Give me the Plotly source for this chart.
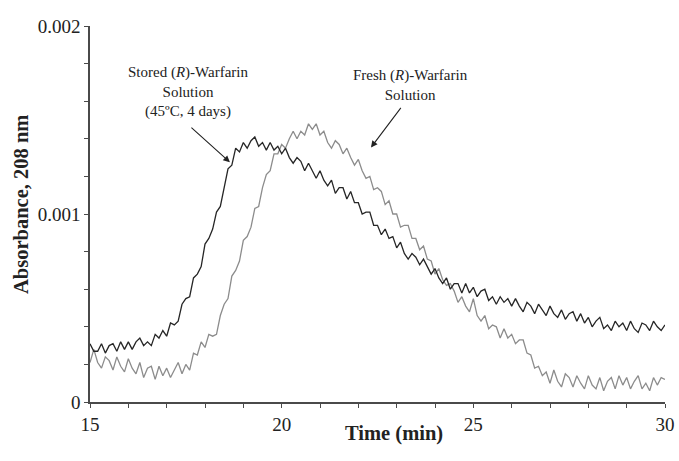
import numpy as np
import plotly.graph_objects as go

# Absorbance values in units of 1e-5 AU, sampled every 0.1 min from 15.0 to 30.0 min
stored_e5 = [
    31, 27, 27, 31, 26, 30, 31, 27, 32, 28,
    32, 28, 32, 34, 30, 32, 30, 36, 34, 38,
    35, 42, 41, 43, 52, 55, 56, 66, 68, 72,
    84, 87, 92, 101, 104, 115, 124, 126, 135, 133,
    138, 135, 139, 141, 136, 138, 134, 138, 134, 136,
    132, 135, 130, 127, 130, 128, 123, 127, 123, 119,
    123, 118, 115, 118, 111, 114, 114, 108, 112, 106,
    106, 100, 101, 101, 94, 94, 89, 92, 87, 88,
    82, 85, 79, 76, 79, 77, 73, 76, 72, 68,
    71, 66, 63, 66, 60, 63, 63, 58, 63, 58,
    61, 56, 59, 60, 54, 56, 52, 56, 53, 55,
    51, 55, 51, 48, 53, 51, 47, 52, 49, 46,
    51, 47, 45, 49, 44, 47, 48, 43, 47, 42,
    45, 40, 43, 45, 39, 41, 38, 43, 40, 42,
    38, 43, 39, 37, 42, 41, 38, 43, 40, 38,
    41,
]
fresh_e5 = [
    21, 28, 21, 18, 24, 22, 17, 24, 19, 16,
    23, 18, 15, 21, 13, 18, 19, 12, 19, 14,
    18, 13, 17, 21, 15, 20, 17, 26, 25, 32,
    29, 36, 35, 36, 46, 52, 55, 67, 70, 75,
    86, 88, 93, 103, 104, 114, 121, 123, 132, 132,
    137, 135, 140, 144, 140, 144, 142, 148, 145, 148,
    142, 144, 138, 135, 139, 137, 132, 135, 130, 126,
    129, 123, 119, 120, 113, 114, 112, 105, 107, 100,
    100, 93, 94, 94, 87, 87, 81, 83, 76, 75,
    68, 71, 65, 62, 63, 59, 53, 56, 51, 48,
    55, 46, 43, 46, 39, 41, 40, 34, 39, 34,
    36, 31, 33, 33, 26, 25, 18, 19, 14, 16,
    10, 17, 11, 8, 15, 13, 8, 14, 10, 7,
    14, 9, 7, 13, 6, 11, 13, 7, 14, 9,
    13, 7, 11, 14, 7, 10, 6, 13, 9, 13,
    12,
]
time_start, time_end = 15.0, 30.0
x_tickvals = [15, 20, 25, 30]
y_tickvals = [0, 0.001, 0.002]
y_ticktext = ["0", "0.001", "0.002"]

t = np.linspace(time_start, time_end, len(stored_e5))
stored = np.array(stored_e5) * 1e-5
fresh = np.array(fresh_e5) * 1e-5

FONT = "Liberation Serif, Times New Roman, serif"
AXC = "#4a4a4a"

fig = go.Figure()
fig.add_trace(go.Scatter(x=t, y=fresh, mode="lines", line=dict(color="#8c8c8c", width=1.3),
                         name="Fresh", showlegend=False))
fig.add_trace(go.Scatter(x=t, y=stored, mode="lines", line=dict(color="#262626", width=1.3),
                         name="Stored", showlegend=False))

fig.update_layout(
    width=679, height=461,
    margin=dict(l=90, r=14, t=26, b=59, autoexpand=False),
    paper_bgcolor="white", plot_bgcolor="white",
    font=dict(family=FONT, size=19, color="#222"),
    showlegend=False,
)
fig.update_xaxes(
    range=[time_start, time_end], tickvals=x_tickvals, automargin=False,
    showline=True, linecolor=AXC, linewidth=1.5, showgrid=False, zeroline=False,
    ticks="outside", ticklen=4, tickcolor=AXC, tickwidth=1.2,
    minor=dict(dtick=1, ticks="outside", ticklen=4, tickcolor=AXC, tickwidth=1.2),
    tickfont=dict(size=19),
)
fig.update_yaxes(
    range=[0, 0.002], tickvals=y_tickvals, ticktext=y_ticktext, automargin=False,
    showline=True, linecolor=AXC, linewidth=1.5, showgrid=False, zeroline=False,
    ticks="outside", ticklen=4, tickcolor=AXC, tickwidth=1.2,
    minor=dict(dtick=0.0002, ticks="outside", ticklen=4, tickcolor=AXC, tickwidth=1.2),
    tickfont=dict(size=19),
)

# axis titles
fig.add_annotation(text="<b>Time (min)</b>", xref="paper", yref="paper",
                   x=(394 - 90) / 575, y=-(434 - 402) / 376, xanchor="center", yanchor="middle",
                   showarrow=False, font=dict(size=20.5, family=FONT, color="#222"))
fig.add_annotation(text="<b>Absorbance, 208 nm</b>", xref="paper", yref="paper",
                   x=-(90 - 21) / 575, y=(402 - 205) / 376, xanchor="center", yanchor="middle",
                   textangle=-90, showarrow=False, font=dict(size=20.5, family=FONT, color="#222"))

# labels
fig.add_annotation(text="Stored (<i>R</i>)-Warfarin<br>Solution<br>(45ºC, 4 days)",
                   x=17.56, y=0.00165, xref="x", yref="y", showarrow=False,
                   xanchor="center", yanchor="middle", font=dict(size=15, family=FONT, color="#222"))
fig.add_annotation(text="Fresh (<i>R</i>)-Warfarin<br>Solution",
                   x=23.35, y=0.001684, xref="x", yref="y", showarrow=False,
                   xanchor="center", yanchor="middle", font=dict(size=15, family=FONT, color="#222"))
# arrows
fig.add_annotation(text="", x=18.65, y=0.001275, xref="x", yref="y", showarrow=True,
                   ax=-40, ay=-36, arrowhead=2, arrowsize=1.2, arrowwidth=1.1, arrowcolor="#222")
fig.add_annotation(text="", x=22.33, y=0.001354, xref="x", yref="y", showarrow=True,
                   ax=31, ay=-41, arrowhead=2, arrowsize=1.2, arrowwidth=1.1, arrowcolor="#222")

fig.write_html("out.html", config={"displayModeBar": False},
               post_script="document.body.style.margin='0px';")
